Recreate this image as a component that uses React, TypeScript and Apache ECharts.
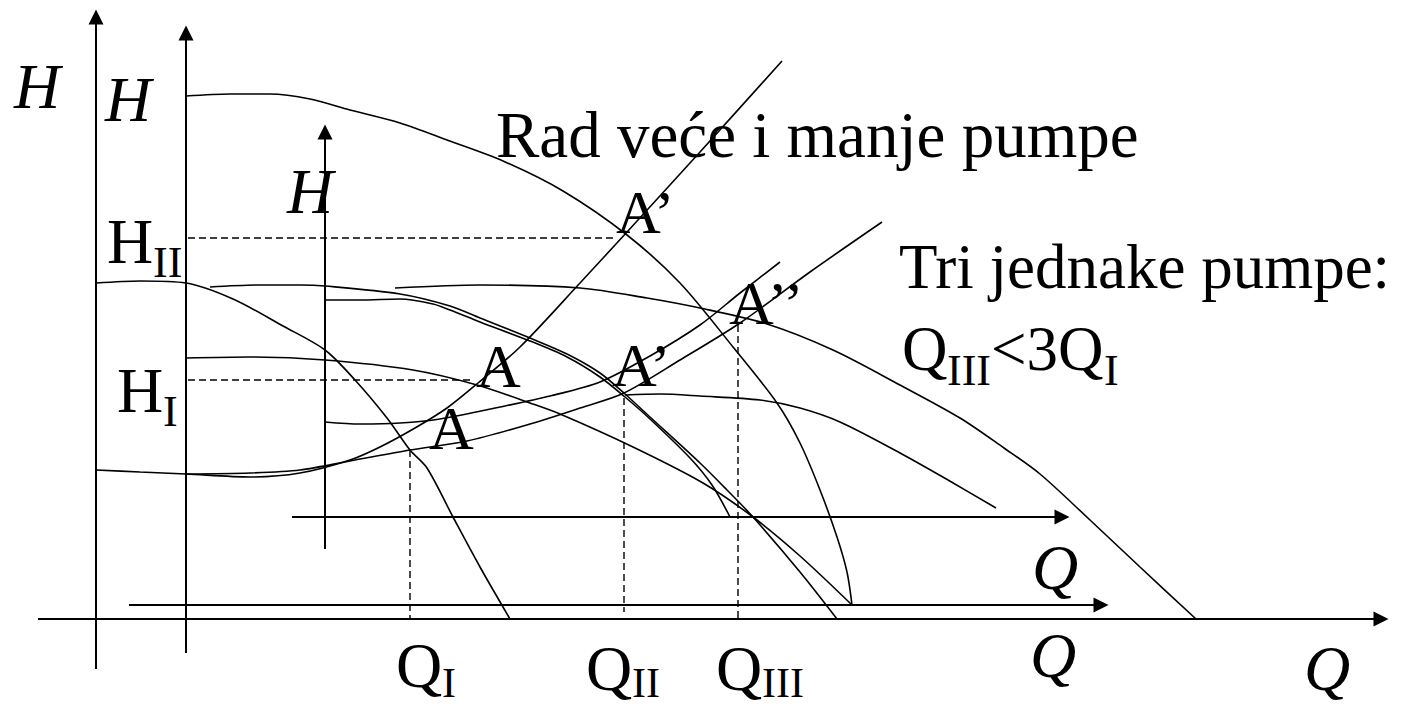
import React, { useEffect, useRef } from "react";
import * as echarts from "echarts";

// Drawing frame: x grows to the right, y grows downward (the y axis is inverted).
const FRAME_W = 1403;
const FRAME_H = 707;

// Coordinate axes (start point, arrow end point)
const axisLines: number[][][] = [
  [[38, 619], [1381, 619]],
  [[129, 605], [1101, 605]],
  [[292, 517], [1062, 517]],
  [[96, 669], [96, 17]],
  [[186, 653], [186, 33]],
  [[325, 549], [325, 132]],
];

// Pump characteristics H(Q)
const smallPumpCurve = [
  [96, 283], [140, 281], [186, 283], [233, 299], [283, 326], [325, 350], [355, 380],
  [387, 418], [410, 450], [427, 468], [453, 517], [480, 567], [510, 619],
];
const largePumpCurve = [
  [186, 96], [230, 94], [270, 94], [310, 99], [350, 110], [400, 123], [447, 140],
  [503, 161], [563, 191], [627, 235], [680, 283], [733, 347], [777, 403], [800, 443],
  [820, 490], [837, 537], [847, 572], [852, 605],
];
const smallPumpCurve2 = [
  [186, 358], [250, 357], [325, 360], [413, 370], [477, 385], [530, 403], [560, 414],
  [633, 447], [703, 483], [753, 517], [800, 556], [852, 605],
];
const parallelCurveUpper = [
  [210, 287], [260, 285], [300, 285], [325, 286], [400, 294], [450, 306], [480, 318],
  [530, 338], [567, 354], [600, 373], [625, 394], [650, 417], [700, 463], [727, 490],
  [753, 517], [800, 572], [837, 619],
];
const singleEqualPump = [
  [325, 300], [360, 300], [400, 299], [433, 304], [450, 310], [480, 322], [530, 341],
  [567, 357], [600, 377], [625, 397], [650, 419], [690, 458], [712, 485], [730, 517],
];
const twoEqualPumps = [
  [625, 395], [660, 394], [700, 396], [760, 400], [800, 408], [840, 422], [900, 453],
  [948, 480], [996, 508],
];
const threeEqualPumps = [
  [395, 288], [480, 285], [580, 288], [647, 298], [700, 308], [767, 324], [833, 350],
  [900, 385], [960, 418], [1004, 448], [1040, 474], [1090, 520], [1140, 567], [1196, 619],
];

// System characteristics
const systemCurve1 = [
  [96, 470], [140, 472], [186, 474], [250, 477], [300, 473], [350, 460], [380, 447],
  [415, 428], [447, 408], [478, 383], [520, 347], [580, 283], [627, 232], [700, 152],
  [782, 61],
];
const systemCurve2 = [
  [186, 474], [250, 473], [300, 470], [350, 461], [410, 450], [467, 441], [530, 424],
  [580, 408], [624, 393], [680, 360], [740, 323], [810, 272], [882, 222],
];
const systemCurve3 = [
  [325, 422], [360, 424], [400, 423], [440, 419], [500, 407], [550, 396], [600, 382],
  [650, 356], [700, 325], [740, 293], [780, 262],
];

// Operating-point guides (H and Q readings)
const guideHII = [[188, 238], [615, 238]];
const guideHI = [[188, 380], [470, 380]];
const guideQI = [[410, 450], [410, 619]];
const guideQII = [[624, 398], [624, 612]];
const guideQIII = [[738, 325], [738, 619]];

// Text content
const captionTexts = ["Rad veće i manje pumpe", "Tri jednake pumpe:"];
const pointNames = ["A", "A", "A’", "A’", "A’’"];

const FONT = '"Liberation Serif", "Times New Roman", Times, serif';

type Note = { text: string; at: number[]; size: number; italic?: boolean };

// Placement of every text, in frame units (anchor = left edge, vertical centre of capitals)
const notes: Note[] = [
  { text: "H", at: [14, 86], size: 64, italic: true },
  { text: "H", at: [105, 99], size: 64, italic: true },
  { text: "H", at: [287, 191], size: 64, italic: true },
  { text: "H", at: [107, 241], size: 64 },
  { text: "II", at: [153, 262], size: 44 },
  { text: "H", at: [117, 390], size: 64 },
  { text: "I", at: [163, 411], size: 44 },
  { text: "Q", at: [396, 665], size: 64 },
  { text: "I", at: [442, 683], size: 42 },
  { text: "Q", at: [586, 668], size: 64 },
  { text: "II", at: [632, 683], size: 42 },
  { text: "Q", at: [716, 668], size: 64 },
  { text: "III", at: [762, 683], size: 42 },
  { text: "Q", at: [1032, 567], size: 64, italic: true },
  { text: "Q", at: [1030, 655], size: 64, italic: true },
  { text: "Q", at: [1304, 668], size: 64, italic: true },
  { text: captionTexts[0], at: [496, 135], size: 65 },
  { text: captionTexts[1], at: [899, 267], size: 63 },
  { text: "Q", at: [902, 349], size: 63 },
  { text: "III", at: [947, 370], size: 44 },
  { text: "<3Q", at: [991, 349], size: 63 },
  { text: "I", at: [1104, 370], size: 44 },
  { text: pointNames[0], at: [476, 366], size: 62 },
  { text: pointNames[1], at: [429, 428], size: 62 },
  { text: pointNames[2], at: [616, 212], size: 62 },
  { text: pointNames[3], at: [612, 365], size: 62 },
  { text: pointNames[4], at: [729, 303], size: 62 },
];

const curve = (data: number[][]) => ({
  type: "line",
  data,
  smooth: 0.3,
  showSymbol: false,
  symbol: "none",
  silent: true,
  lineStyle: { color: "#000", width: 1.6 },
  z: 3,
});

const guide = (data: number[][]) => ({
  type: "line",
  data,
  showSymbol: false,
  symbol: "none",
  silent: true,
  lineStyle: { color: "#000", width: 1.4, type: [7, 4] },
  z: 2,
});

export default function App() {
  const ref = useRef<HTMLDivElement>(null);

  useEffect(() => {
    if (!ref.current) return;
    const chart = echarts.init(ref.current, null, { renderer: "svg" });

    const curves = [
      smallPumpCurve,
      largePumpCurve,
      smallPumpCurve2,
      parallelCurveUpper,
      singleEqualPump,
      twoEqualPumps,
      threeEqualPumps,
      systemCurve1,
      systemCurve2,
      systemCurve3,
    ];
    const guides = [guideHII, guideHI, guideQI, guideQII, guideQIII];

    chart.setOption({
      animation: false,
      backgroundColor: "#fff",
      grid: { left: 0, right: 0, top: 0, bottom: 0 },
      xAxis: { type: "value", min: 0, max: FRAME_W, show: false },
      yAxis: { type: "value", min: 0, max: FRAME_H, inverse: true, show: false },
      series: [
        {
          type: "lines",
          coordinateSystem: "cartesian2d",
          silent: true,
          symbol: ["none", "triangle"],
          symbolSize: 15,
          lineStyle: { color: "#000", width: 2, opacity: 1, curveness: 0 },
          itemStyle: { color: "#000" },
          data: axisLines.map((coords) => ({ coords })),
          z: 4,
        },
        ...curves.map(curve),
        ...guides.map(guide),
      ],
    });

    const elements = notes.map((n) => {
      const [px, py] = chart.convertToPixel({ gridIndex: 0 }, n.at) as number[];
      return {
        type: "text",
        x: px,
        y: py,
        z: 100,
        silent: true,
        style: {
          text: n.text,
          fill: "#000",
          fontSize: n.size,
          fontFamily: FONT,
          fontStyle: n.italic ? "italic" : "normal",
          fontWeight: "normal",
          align: "left",
          verticalAlign: "middle",
          textAlign: "left",
          textVerticalAlign: "middle",
        },
      };
    });
    chart.setOption({ graphic: { elements } });

    return () => chart.dispose();
  }, []);

  return (
    <div
      ref={ref}
      style={{
        position: "fixed",
        left: 0,
        top: 0,
        width: FRAME_W,
        height: FRAME_H,
        background: "#fff",
      }}
    />
  );
}
